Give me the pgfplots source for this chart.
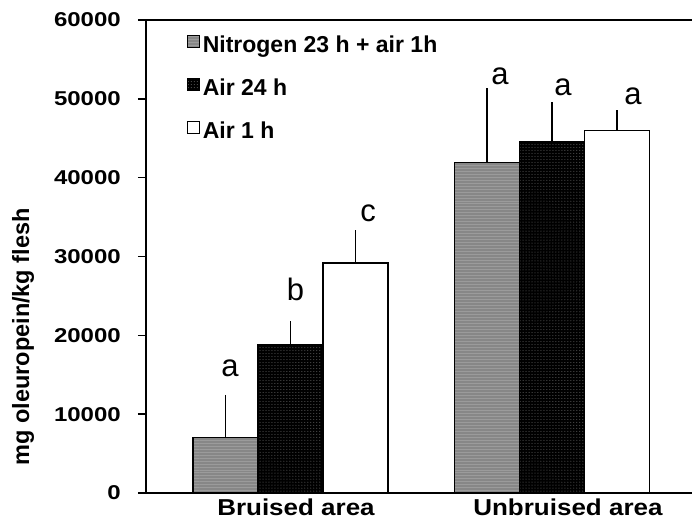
\documentclass[border=0pt]{standalone}
\usepackage{pgfplots}
\pgfplotsset{compat=1.18}
\usepackage{fontspec}
\setmainfont{Liberation Sans}
\usetikzlibrary{patterns}
\definecolor{bargray}{RGB}{135,135,135}
\definecolor{stripegray}{RGB}{155,155,155}
\definecolor{dotgray}{RGB}{110,110,110}
\begin{document}
\begin{tikzpicture}
\useasboundingbox (-146bp,-31bp) rectangle (546bp,493bp);
\begin{axis}[
  scale only axis, width=556bp, height=473bp,
  xmin=-0.5526, xmax=1.5736, ymin=0, ymax=60000,
  axis line style={line width=2.8bp, black},
  ybar=0pt, bar width=65bp,
  ytick={0,10000,20000,30000,40000,50000,60000},
  scaled y ticks=false,
  ytick pos=left, xtick pos=bottom,
  tick align=outside, major tick length=8bp,
  ytick style={line width=1.5bp, black},
  xtick style={draw=none},
  /pgf/number format/assume math mode=true,
  /pgf/number format/1000 sep={},
  yticklabel style={font=\fontsize{20bp}{22bp}\selectfont\bfseries, anchor=east, xshift=-13bp, xscale=1.2},
  xtick={0.021,1.061}, xticklabels={Bruised area, Unbruised area},
  xticklabel style={font=\fontsize{23bp}{25bp}\selectfont\bfseries, anchor=base, yshift=-14bp, xscale=1.13},
  ylabel={mg oleuropein/kg flesh},
  every axis y label/.style={at={(rel axis cs:0,0.33)}, xshift=-123bp, rotate=90, anchor=center,
     font=\fontsize{23.5bp}{26bp}\selectfont\bfseries},
  legend style={draw=none, fill=none, at={(rel axis cs:0.073,0.973)}, anchor=north west, inner sep=0pt,
     row sep=15bp, font=\fontsize{23bp}{26bp}\selectfont\bfseries,
     nodes={inner sep=3bp, text height=17bp, text depth=5bp},
     /tikz/every even column/.append style={column sep=4bp}},
  legend cell align=left,
  mylegend/.style={legend image code/.code={\draw[##1, line width=1bp] (1bp,-1bp) rectangle (13bp,11bp);}},
]
\addplot[mylegend, draw=black, line width=1.2bp, fill=bargray,
  postaction={pattern=horizontal lines, pattern color=stripegray},
  error bars/.cd, y dir=plus, y explicit,
  error bar style={line width=1.3bp, black},
  error mark options={line width=1.3bp, mark size=6bp, black}]
  coordinates {(0,7000) +- (0,4700) (1,41950) +- (0,8650)};
\addplot[mylegend, draw=black, line width=1.2bp, fill=black,
  postaction={pattern=dots, pattern color=dotgray},
  error bars/.cd, y dir=plus, y explicit,
  error bar style={line width=1.3bp, black},
  error mark options={line width=1.3bp, mark size=6bp, black}]
  coordinates {(0,18860) +- (0,2150) (1,44570) +- (0,4240)};
\addplot[mylegend, draw=black, line width=1.2bp, fill=white,
  error bars/.cd, y dir=plus, y explicit,
  error bar style={line width=1.3bp, black},
  error mark options={line width=1.3bp, mark size=6bp, black}]
  coordinates {(0,29180) +- (0,3400) (1,46010) +- (0,1780)};
\legend{Nitrogen 23 h + air 1h, Air 24 h, Air 1 h}
\node[anchor=base, font=\fontsize{31bp}{34bp}\selectfont] at (axis cs:-0.2314,14715) {a};
\node[anchor=base, font=\fontsize{31bp}{34bp}\selectfont] at (axis cs:0.0191,24356) {b};
\node[anchor=base, font=\fontsize{31bp}{34bp}\selectfont] at (axis cs:0.2964,34378) {c};
\node[anchor=base, font=\fontsize{31bp}{34bp}\selectfont] at (axis cs:0.8011,51757) {a};
\node[anchor=base, font=\fontsize{31bp}{34bp}\selectfont] at (axis cs:1.0421,50362) {a};
\node[anchor=base, font=\fontsize{31bp}{34bp}\selectfont] at (axis cs:1.3098,49220) {a};
\end{axis}
\end{tikzpicture}
\end{document}
